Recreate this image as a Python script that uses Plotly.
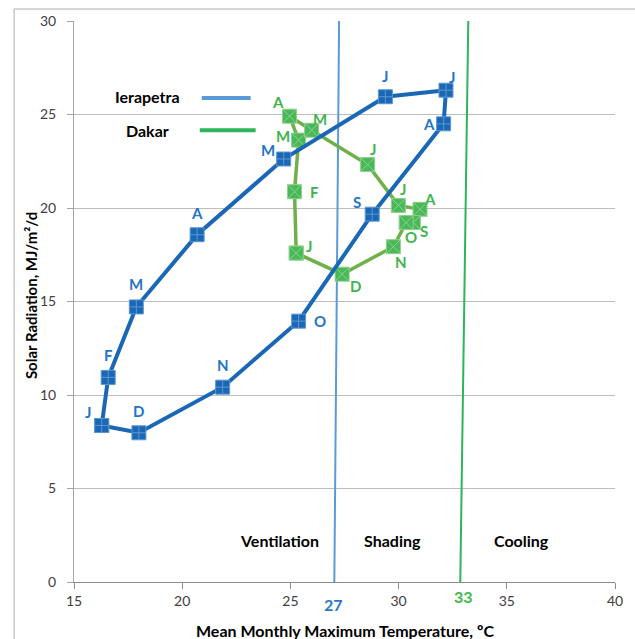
import plotly.graph_objects as go

# ---------------- data ----------------
months = ["J", "F", "M", "A", "M", "J", "J", "A", "S", "O", "N", "D"]

ierapetra_temp = [16.28, 16.58, 17.88, 20.69, 24.69, 29.39, 32.19, 32.08, 28.78, 25.38, 21.87, 18.00]
ierapetra_rad = [8.37, 10.94, 14.71, 18.57, 22.62, 25.95, 26.30, 24.50, 19.67, 13.95, 10.42, 7.98]

dakar_temp = [25.27, 25.19, 25.38, 24.96, 25.98, 28.57, 29.99, 30.99, 30.68, 30.35, 29.76, 27.39]
dakar_rad = [17.59, 20.87, 23.63, 24.91, 24.16, 22.32, 20.14, 19.93, 19.22, 19.22, 17.93, 16.46]

ierapetra_limit = 27
dakar_limit = 33
limit_x_ierapetra = [27.03, 27.25]
limit_x_dakar = [32.85, 33.22]
limit_y = [0, 30]

zones = ["Ventilation", "Shading", "Cooling"]
zone_x = [24.5, 29.7, 35.7]

x_ticks = [15, 20, 25, 30, 35, 40]
y_ticks = [0, 5, 10, 15, 20, 25, 30]

# label offsets (pixels: dx right, dy down)
ier_off = [(-14, -13), (0, -22), (0, -23), (0, -22), (-16, -9), (0, -21),
           (6, -13), (-15, 0), (-15, -12), (21, 0), (0, -22), (0, -22)]
dak_off = [(13, -7), (20, 0), (-16, -4), (-12, -14), (8, -11), (5, -16),
           (5, -16), (10, -10), (11, 8), (5, 14), (8, 15), (13, 12)]

# ---------------- style ----------------
FONT = "Lato"
IER_DARK = "#1A68B5"
IER_LABEL = "#2475C4"
IER_LIGHT = "#5B9BD5"
DAK_LINE = "#6FB04A"
DAK_MARK = "#48B85A"
DAK_LABEL = "#3DB54D"
DAK_LIMIT = "#2DB55C"
GRID = "#BDBDBD"

W, H = 635, 639
ML, MR, MT, MB = 74, 19, 17, 57
pw, ph = W - ML - MR, H - MT - MB

fig = go.Figure()

# limit lines
fig.add_trace(go.Scatter(x=limit_x_ierapetra, y=limit_y, mode="lines",
                         line=dict(color=IER_LIGHT, width=2), hoverinfo="skip",
                         showlegend=False))
fig.add_trace(go.Scatter(x=limit_x_dakar, y=limit_y, mode="lines",
                         line=dict(color=DAK_LIMIT, width=2), hoverinfo="skip",
                         showlegend=False))

# Dakar loop
fig.add_trace(go.Scatter(
    x=dakar_temp + dakar_temp[:1], y=dakar_rad + dakar_rad[:1],
    mode="lines+markers", name="Dakar",
    line=dict(color=DAK_LINE, width=3.5),
    marker=dict(symbol="square-x", size=14, color=DAK_MARK,
                line=dict(color="#8FD18A", width=1)),
    showlegend=False))

# Ierapetra loop
fig.add_trace(go.Scatter(
    x=ierapetra_temp + ierapetra_temp[:1], y=ierapetra_rad + ierapetra_rad[:1],
    mode="lines+markers", name="Ierapetra",
    line=dict(color=IER_DARK, width=4),
    marker=dict(symbol="square-cross", size=14, color=IER_DARK,
                line=dict(color="#5E97D2", width=1)),
    showlegend=False))

ann = []
for m, x, y, (dx, dy) in zip(months, ierapetra_temp, ierapetra_rad, ier_off):
    ann.append(dict(x=x, y=y, xref="x", yref="y", text=m, showarrow=False,
                    xshift=dx, yshift=-dy,
                    font=dict(family=FONT, size=15, color=IER_LABEL, weight="bold")))
for m, x, y, (dx, dy) in zip(months, dakar_temp, dakar_rad, dak_off):
    ann.append(dict(x=x, y=y, xref="x", yref="y", text=m, showarrow=False,
                    xshift=dx, yshift=-dy,
                    font=dict(family=FONT, size=15, color=DAK_LABEL, weight="bold")))

# zone labels
for z, zx in zip(zones, zone_x):
    ann.append(dict(x=zx, y=2.2, xref="x", yref="y", text=z, showarrow=False,
                    font=dict(family=FONT, size=16, color="black", weight="bold")))

# limit labels below axis
ann.append(dict(x=ierapetra_limit, y=0, xref="x", yref="y", text=str(ierapetra_limit),
                showarrow=False, yshift=-22,
                font=dict(family=FONT, size=16, color="#2A78C6", weight="bold")))
ann.append(dict(x=dakar_limit, y=0, xref="x", yref="y", text=str(dakar_limit),
                showarrow=False, yshift=-14,
                font=dict(family=FONT, size=16, color="#3CB84C", weight="bold")))

def px_x(p):
    return (p - ML) / pw

def px_y(p):
    return (H - MB - p) / ph

C = dict(xanchor="center", yanchor="middle")

# legend (manual)
ann.append(dict(x=px_x(148), y=px_y(93), xref="paper", yref="paper",
                text="Ierapetra", showarrow=False, **C,
                font=dict(family=FONT, size=16, color="black", weight="bold")))
ann.append(dict(x=px_x(148), y=px_y(127), xref="paper", yref="paper",
                text="Dakar", showarrow=False, **C,
                font=dict(family=FONT, size=16, color="black", weight="bold")))

# axis titles
ann.append(dict(x=px_x(346), y=px_y(631), xref="paper", yref="paper",
                text="Mean Monthly Maximum Temperature, ºC", showarrow=False, **C,
                font=dict(family=FONT, size=16, color="black", weight="bold")))
ann.append(dict(x=px_x(31), y=px_y(294), xref="paper", yref="paper",
                text="Solar Radiation, MJ/m²/d", showarrow=False, textangle=-90, **C,
                font=dict(family=FONT, size=15, color="black", weight="bold")))

shapes = [
    dict(type="line", xref="paper", yref="paper", x0=px_x(202), x1=px_x(251),
         y0=px_y(94.5), y1=px_y(94.5), line=dict(color=IER_LIGHT, width=4)),
    dict(type="line", xref="paper", yref="paper", x0=px_x(200), x1=px_x(256),
         y0=px_y(127), y1=px_y(127), line=dict(color=DAK_LIMIT, width=4)),
    # outer chart border (top + left)
    dict(type="line", xref="paper", yref="paper", x0=px_x(14), x1=px_x(640),
         y0=px_y(5), y1=px_y(5), line=dict(color="#C8C8C8", width=1.5)),
    dict(type="line", xref="paper", yref="paper", x0=px_x(14), x1=px_x(14),
         y0=px_y(5), y1=px_y(645), line=dict(color="#C8C8C8", width=1.5)),
]

fig.update_layout(
    width=W, height=H,
    margin=dict(l=ML, r=MR, t=MT, b=MB),
    paper_bgcolor="white", plot_bgcolor="white",
    annotations=ann, shapes=shapes,
    font=dict(family=FONT, size=14, color="#404040"),
    xaxis=dict(range=[15, 40], tickvals=x_ticks, showgrid=False, zeroline=False,
               showline=True, linecolor="#8C8C8C", linewidth=1,
               ticks="outside", ticklen=6, tickcolor="#8C8C8C",
               tickfont=dict(family=FONT, size=14, color="#404040")),
    yaxis=dict(range=[0, 30], tickvals=y_ticks, showgrid=True, gridcolor=GRID,
               gridwidth=1, zeroline=False,
               showline=True, linecolor="#A6A6A6", linewidth=1,
               ticks="outside", ticklen=6, tickcolor="#A6A6A6",
               ticklabelstandoff=8,
               tickfont=dict(family=FONT, size=14, color="#404040")),
    showlegend=False,
)

fig.write_html("out.html", config={"displayModeBar": False},
               post_script="document.body.style.margin='0';document.body.style.overflow='hidden';")
